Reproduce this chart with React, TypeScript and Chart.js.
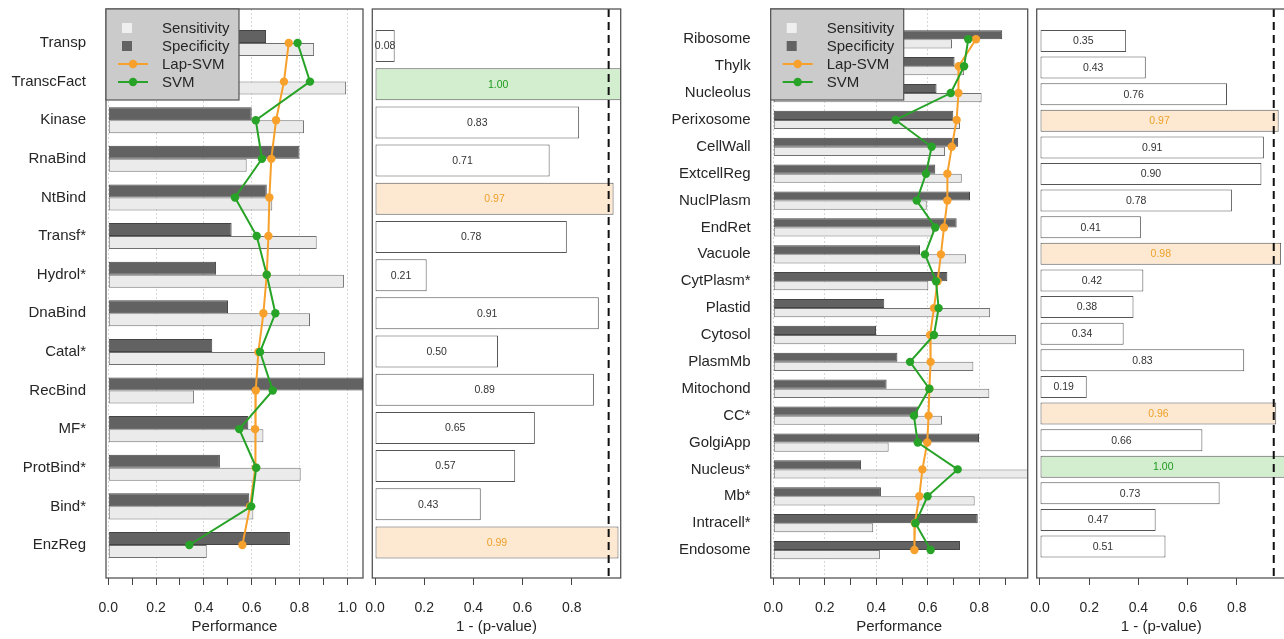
import React, { useEffect, useRef } from 'react';
import { Chart, registerables } from 'chart.js';

Chart.register(...registerables);

// ---------------- Data ----------------
const leftCategories = ['Transp', 'TranscFact', 'Kinase', 'RnaBind', 'NtBind', 'Transf*', 'Hydrol*', 'DnaBind', 'Catal*', 'RecBind', 'MF*', 'ProtBind*', 'Bind*', 'EnzReg'];
const leftSpecificity = [0.66, 0.5, 0.6, 0.8, 0.663, 0.516, 0.451, 0.501, 0.435, 1.08, 0.586, 0.467, 0.59, 0.76];
const leftSensitivity = [0.861, 0.995, 0.819, 0.579, 0.686, 0.872, 0.986, 0.844, 0.907, 0.359, 0.649, 0.805, 0.607, 0.412];
const leftLapSvm = [0.755, 0.735, 0.702, 0.682, 0.674, 0.67, 0.663, 0.649, 0.628, 0.617, 0.614, 0.617, 0.593, 0.561];
const leftSvm = [0.792, 0.844, 0.617, 0.643, 0.53, 0.621, 0.663, 0.699, 0.635, 0.688, 0.548, 0.619, 0.598, 0.339];
const leftPValue = [0.08, 1.0, 0.83, 0.71, 0.97, 0.78, 0.21, 0.91, 0.5, 0.89, 0.65, 0.57, 0.43, 0.99];

const rightCategories = ['Ribosome', 'Thylk', 'Nucleolus', 'Perixosome', 'CellWall', 'ExtcellReg', 'NuclPlasm', 'EndRet', 'Vacuole', 'CytPlasm*', 'Plastid', 'Cytosol', 'PlasmMb', 'Mitochond', 'CC*', 'GolgiApp', 'Nucleus*', 'Mb*', 'Intracell*', 'Endosome'];
const rightSpecificity = [0.889, 0.704, 0.634, 0.699, 0.718, 0.629, 0.764, 0.712, 0.57, 0.676, 0.431, 0.399, 0.482, 0.44, 0.563, 0.799, 0.341, 0.418, 0.794, 0.725];
const rightSensitivity = [0.694, 0.741, 0.809, 0.725, 0.667, 0.732, 0.596, 0.621, 0.748, 0.602, 0.842, 0.943, 0.777, 0.839, 0.655, 0.448, 1.0, 0.782, 0.388, 0.414];
const rightLapSvm = [0.787, 0.72, 0.719, 0.712, 0.693, 0.676, 0.676, 0.663, 0.651, 0.638, 0.624, 0.609, 0.611, 0.606, 0.603, 0.598, 0.579, 0.567, 0.55, 0.548];
const rightSvm = [0.757, 0.741, 0.689, 0.475, 0.615, 0.593, 0.557, 0.629, 0.589, 0.632, 0.642, 0.624, 0.531, 0.606, 0.546, 0.561, 0.716, 0.599, 0.552, 0.611];
const rightPValue = [0.35, 0.43, 0.76, 0.97, 0.91, 0.9, 0.78, 0.41, 0.98, 0.42, 0.38, 0.34, 0.83, 0.19, 0.96, 0.66, 1.0, 0.73, 0.47, 0.51];

const legendLabels = ['Sensitivity', 'Specificity', 'Lap-SVM', 'SVM'];
const perfAxisTitle = 'Performance';
const pAxisTitle = '1 - (p-value)';
const significanceThreshold = 0.95;

// ---------------- Styles ----------------
const FONT = "'Liberation Sans', Arial, Helvetica, sans-serif";
const TEXT = '#262626';
const COL = {
  light: '#ebebeb',
  lightBorder: '#707070',
  dark: '#626262',
  darkBorder: '#444444',
  orange: '#f7a12c',
  green: '#27a327',
  orangeFill: '#fde8d2',
  greenFill: '#d3edcf',
  orangeText: '#eea22a',
  greenText: '#1f9b1f',
  frame: '#555555',
  legendBg: '#cbcbcb',
};

const H = 639;

type PerfGeo = { yMin: number; yMax: number; xMin: number; xMax: number; catPct: number; yWidth: number; padLeft: number; padRight: number };
type PGeo = { yMin: number; yMax: number; xMin: number; xMax: number; catPct: number; padLeft: number; padRight: number };

const framePlugin = {
  id: 'frame',
  afterDraw(chart: any) {
    const { ctx, chartArea: a } = chart;
    ctx.save();
    ctx.strokeStyle = COL.frame;
    ctx.lineWidth = 1.3;
    ctx.strokeRect(a.left, a.top, a.right - a.left, a.bottom - a.top);
    ctx.restore();
  },
};

const legendPlugin = {
  id: 'perfLegend',
  afterDraw(chart: any) {
    const { ctx, chartArea: a } = chart;
    const L = a.left, T = a.top;
    ctx.save();
    ctx.fillStyle = COL.legendBg;
    ctx.fillRect(L, T, 133, 91);
    ctx.strokeStyle = COL.frame;
    ctx.lineWidth = 1.2;
    ctx.strokeRect(L, T, 133, 91);
    const rows = [19, 37, 55, 73];
    ctx.fillStyle = '#efefef';
    ctx.fillRect(L + 16, T + rows[0] - 5, 10, 10);
    ctx.fillStyle = COL.dark;
    ctx.fillRect(L + 16, T + rows[1] - 5, 10, 10);
    const lineRow = (y: number, c: string) => {
      ctx.strokeStyle = c;
      ctx.lineWidth = 2;
      ctx.beginPath();
      ctx.moveTo(L + 12, T + y);
      ctx.lineTo(L + 42, T + y);
      ctx.stroke();
      ctx.fillStyle = c;
      ctx.beginPath();
      ctx.arc(L + 27, T + y, 4.2, 0, Math.PI * 2);
      ctx.fill();
    };
    lineRow(rows[2], COL.orange);
    lineRow(rows[3], COL.green);
    ctx.fillStyle = TEXT;
    ctx.font = `15px ${FONT}`;
    ctx.textBaseline = 'middle';
    ctx.textAlign = 'left';
    legendLabels.forEach((t, i) => ctx.fillText(t, L + 56, T + rows[i] + 1));
    ctx.restore();
  },
};

function isWinnerSvm(svm: number[], lap: number[], i: number) {
  return svm[i] > lap[i];
}

function makePValuePlugin(p: number[], svm: number[], lap: number[]) {
  return {
    id: 'pvalueLabels',
    afterDatasetsDraw(chart: any) {
      const { ctx, chartArea: a, scales } = chart;
      const meta = chart.getDatasetMeta(0);
      ctx.save();
      const tx = scales.x.getPixelForValue(significanceThreshold);
      ctx.strokeStyle = '#111';
      ctx.lineWidth = 2;
      ctx.setLineDash([8, 5]);
      ctx.beginPath();
      ctx.moveTo(tx, a.top);
      ctx.lineTo(tx, a.bottom);
      ctx.stroke();
      ctx.setLineDash([]);
      ctx.font = `10.5px ${FONT}`;
      ctx.textAlign = 'center';
      ctx.textBaseline = 'middle';
      meta.data.forEach((el: any, i: number) => {
        const v = p[i];
        let c = '#333';
        if (v >= significanceThreshold) c = isWinnerSvm(svm, lap, i) ? COL.greenText : COL.orangeText;
        ctx.fillStyle = c;
        ctx.fillText(v.toFixed(2), (el.x + el.base) / 2, el.y + 0.5);
      });
      ctx.restore();
    },
  };
}

const noVerticalPadding = (s: any) => {
  s.paddingTop = 0;
  s.paddingBottom = 0;
};
const fitXAxis = (s: any) => {
  s.height = 61;
  s.paddingLeft = 0;
  s.paddingRight = 0;
};

function perfConfig(cats: string[], spec: number[], sens: number[], lap: number[], svm: number[], g: PerfGeo): any {
  const pts = (arr: number[]) => arr.map((v, i) => ({ x: v, y: i }));
  return {
    type: 'bar',
    data: {
      datasets: [
        { type: 'line', label: legendLabels[3], data: pts(svm), indexAxis: 'y', borderColor: COL.green, backgroundColor: COL.green, borderWidth: 2, pointRadius: 4.2, pointHoverRadius: 4.2, pointBorderWidth: 0, tension: 0, order: 0 },
        { type: 'line', label: legendLabels[2], data: pts(lap), indexAxis: 'y', borderColor: COL.orange, backgroundColor: COL.orange, borderWidth: 2, pointRadius: 4.2, pointHoverRadius: 4.2, pointBorderWidth: 0, tension: 0, order: 1 },
        { type: 'bar', label: legendLabels[1], data: pts(spec), backgroundColor: COL.dark, borderColor: COL.darkBorder, borderWidth: 1, borderSkipped: false, categoryPercentage: g.catPct, barPercentage: 1, order: 2 },
        { type: 'bar', label: legendLabels[0], data: pts(sens), backgroundColor: COL.light, borderColor: COL.lightBorder, borderWidth: 1, borderSkipped: false, categoryPercentage: g.catPct, barPercentage: 1, order: 2 },
      ],
    },
    options: {
      indexAxis: 'y',
      animation: false,
      responsive: false,
      maintainAspectRatio: false,
      events: [],
      layout: { padding: { top: 9, bottom: 0, left: g.padLeft, right: g.padRight } },
      plugins: { legend: { display: false }, tooltip: { enabled: false }, title: { display: false } },
      scales: {
        x: {
          type: 'linear',
          position: 'bottom',
          min: g.xMin,
          max: g.xMax,
          z: 1,
          offset: false,
          ticks: {
            stepSize: 0.1,
            includeBounds: false,
            autoSkip: false,
            maxRotation: 0,
            padding: 15,
            color: TEXT,
            font: { family: FONT, size: 14 },
            callback: (v: any) => {
              const t = Math.round(Number(v) * 10);
              return t % 2 === 0 ? (t / 10).toFixed(1) : '';
            },
          },
          grid: {
            offset: false,
            drawOnChartArea: true,
            drawTicks: true,
            tickLength: 7,
            tickColor: '#444',
            tickWidth: 1,
            lineWidth: 1,
            color: (ctx: any) => {
              const val = ctx.tick ? ctx.tick.value : 0;
              return Math.round(val * 10) % 2 === 0 ? '#d6d6d6' : 'rgba(0,0,0,0)';
            },
          },
          border: { display: false, dash: [2, 2] },
          title: { display: true, text: perfAxisTitle, color: TEXT, font: { family: FONT, size: 15 }, padding: { top: 0, bottom: 3 } },
          afterFit: fitXAxis,
        },
        y: {
          type: 'linear',
          reverse: true,
          offset: false,
          min: g.yMin,
          max: g.yMax,
          ticks: {
            stepSize: 1,
            includeBounds: false,
            autoSkip: false,
            padding: 20,
            color: TEXT,
            font: { family: FONT, size: 15 },
            callback: (v: any) => cats[Math.round(Number(v))] ?? '',
          },
          grid: { display: false, drawTicks: false, offset: false },
          border: { display: false },
          afterFit: (s: any) => { s.width = g.yWidth; noVerticalPadding(s); },
        },
      },
    },
    plugins: [framePlugin, legendPlugin],
  };
}

function pConfig(p: number[], svm: number[], lap: number[], g: PGeo): any {
  const fills = p.map((v, i) => (v >= significanceThreshold ? (isWinnerSvm(svm, lap, i) ? COL.greenFill : COL.orangeFill) : '#ffffff'));
  return {
    type: 'bar',
    data: {
      datasets: [
        { data: p.map((v, i) => ({ x: v, y: i })), backgroundColor: fills, borderColor: '#555', borderWidth: 1, borderSkipped: false, categoryPercentage: g.catPct, barPercentage: 1 },
      ],
    },
    options: {
      indexAxis: 'y',
      animation: false,
      responsive: false,
      maintainAspectRatio: false,
      events: [],
      layout: { padding: { top: 9, bottom: 0, left: g.padLeft, right: g.padRight } },
      plugins: { legend: { display: false }, tooltip: { enabled: false }, title: { display: false } },
      scales: {
        x: {
          type: 'linear',
          position: 'bottom',
          min: g.xMin,
          max: g.xMax,
          offset: false,
          ticks: {
            stepSize: 0.2,
            includeBounds: false,
            autoSkip: false,
            maxRotation: 0,
            padding: 15,
            color: TEXT,
            font: { family: FONT, size: 14 },
            callback: (v: any) => Number(v).toFixed(1),
          },
          grid: { offset: false, drawOnChartArea: false, drawTicks: true, tickLength: 7, tickColor: '#444', tickWidth: 1 },
          border: { display: false },
          title: { display: true, text: pAxisTitle, color: TEXT, font: { family: FONT, size: 15 }, padding: { top: 0, bottom: 3 } },
          afterFit: fitXAxis,
        },
        y: {
          type: 'linear',
          display: false,
          reverse: true,
          offset: false,
          min: g.yMin,
          max: g.yMax,
          ticks: { stepSize: 1, includeBounds: false },
          grid: { offset: false },
        },
      },
    },
    plugins: [framePlugin, makePValuePlugin(p, svm, lap)],
  };
}

function ChartCanvas({ make, left, width }: { make: () => any; left: number; width: number }) {
  const ref = useRef<HTMLCanvasElement>(null);
  useEffect(() => {
    if (!ref.current) return;
    const chart = new Chart(ref.current, make());
    return () => chart.destroy();
  }, []);
  return <canvas ref={ref} width={width} height={H} style={{ position: 'absolute', left, top: 0, width, height: H }} />;
}

export default function App() {
  return (
    <div style={{ position: 'absolute', left: 0, top: 0, width: 1284, height: H, overflow: 'hidden', background: '#fff' }}>
      <ChartCanvas
        left={0}
        width={368}
        make={() => perfConfig(leftCategories, leftSpecificity, leftSensitivity, leftLapSvm, leftSvm, { yMin: -0.88, yMax: 13.855, xMin: -0.0096, xMax: 1.0657, catPct: 0.674, yWidth: 106, padLeft: 0, padRight: 5 })}
      />
      <ChartCanvas
        left={352}
        width={288}
        make={() => pConfig(leftPValue, leftSvm, leftLapSvm, { yMin: -0.969, yMax: 13.93, xMin: -0.011, xMax: 0.999, catPct: 0.838, padLeft: 20.3, padRight: 19.3 })}
      />
      <ChartCanvas
        left={640}
        width={392}
        make={() => perfConfig(rightCategories, rightSpecificity, rightSensitivity, rightLapSvm, rightSvm, { yMin: -1.127, yMax: 20.04, xMin: -0.0101, xMax: 0.988, catPct: 0.68, yWidth: 130.7, padLeft: 0, padRight: 4.3 })}
      />
      <ChartCanvas
        left={1020}
        width={280}
        make={() => pConfig(rightPValue, rightSvm, rightLapSvm, { yMin: -1.2, yMax: 20.18, xMin: -0.0134, xMax: 0.999, catPct: 0.827, padLeft: 16.7, padRight: 14.2 })}
      />
    </div>
  );
}
